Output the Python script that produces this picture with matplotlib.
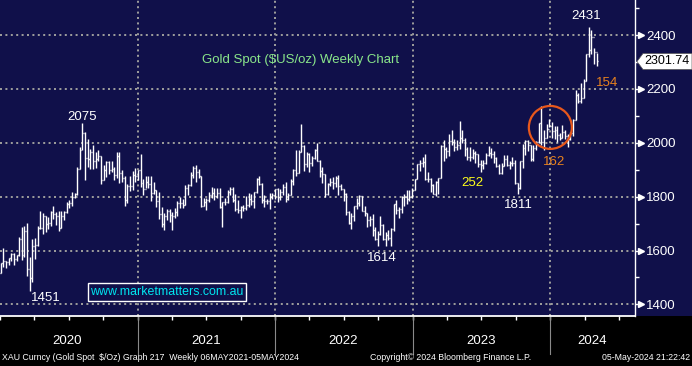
import matplotlib
matplotlib.use('Agg')
import matplotlib.pyplot as plt
import matplotlib.dates as mdates
import matplotlib.transforms as mtransforms
from matplotlib.patches import Rectangle, Polygon, Ellipse
from matplotlib.lines import Line2D
import numpy as np
import pandas as pd

# ---------------- data (weekly XAU spot) ----------------
first_week = "2020-01-03"
first_open = 1517

close_2020 = [1552,1562,1557,1571,1589, 1570,1584,1643,1585, 1674,1530,1498,1617,
              1620,1683,1683,1729, 1700,1702,1743,1735,1730, 1685,1730,1743,1771,
              1775,1799,1810,1902,1975, 2035,1944,1940,1964, 1934,1940,1950,1862,
              1900,1930,1899,1902,1879, 1951,1889,1871,1788, 1839,1839,1882,1877]
high_2020 = [1553,1611,1563,1574,1590, 1590,1585,1649,1689, 1692,1703,1576,1644,
             1645,1690,1748,1738, 1729,1723,1748,1765,1744, 1745,1745,1745,1779,
             1789,1818,1815,1909,1984, 2075,2039,2015,1977, 1993,1966,1973,1951,
             1917,1933,1933,1932,1910, 1965,1965,1898,1875, 1848,1875,1896,1906]
low_2020 = [1517,1540,1536,1546,1563, 1547,1562,1578,1564, 1576,1504,1451,1482,
            1567,1615,1680,1660, 1670,1681,1690,1718,1693, 1671,1685,1713,1741,
            1757,1764,1794,1807,1901, 1972,1863,1911,1903, 1902,1906,1932,1848,
            1862,1873,1884,1890,1860, 1871,1850,1855,1765, 1775,1820,1826,1856]

close_2021 = [1898,1850,1828,1855,1848, 1814,1824,1784,1734, 1700,1727,1745,1732,
              1729,1744,1777,1777,1769, 1831,1844,1881,1905, 1891,1877,1764,1781,
              1787,1808,1815,1802,1814, 1763,1780,1781,1817, 1828,1788,1754,1750,
              1761,1757,1768,1793,1783, 1818,1865,1846,1788, 1783,1783,1798,1808,1829]
high_2021 = [1900,1959,1864,1875,1875, 1875,1855,1823,1816, 1760,1740,1755,1755,
             1742,1758,1785,1797,1790, 1843,1846,1890,1912, 1916,1903,1878,1795,
             1795,1818,1834,1832,1832, 1832,1782,1795,1823, 1834,1834,1809,1788,
             1765,1770,1801,1814,1810, 1819,1868,1877,1849, 1808,1793,1815,1812,1830]
low_2021 = [1863,1835,1808,1833,1831, 1785,1809,1761,1717, 1687,1677,1714,1705,
            1678,1720,1730,1759,1757, 1769,1808,1839,1871, 1856,1869,1761,1767,
            1750,1782,1795,1789,1795, 1758,1687,1770,1775, 1805,1782,1745,1738,
            1721,1746,1750,1760,1770, 1758,1813,1845,1778, 1762,1771,1753,1790,1790]

close_2022 = [1797,1818,1835,1791, 1808,1859,1898,1889, 1966,1988,1921,1958,
              1925,1945,1975,1931,1897, 1883,1811,1846,1853, 1851,1871,1840,1827,
              1811,1742,1703,1727,1766, 1775,1802,1747,1738, 1712,1716,1675,1644,1660,
              1695,1644,1657,1645, 1681,1771,1751,1754, 1797,1797,1793,1798,1824]
high_2022 = [1831,1830,1848,1853, 1815,1865,1902,1974, 1974,2070,1990,1966,
             1961,1950,1978,1998,1936, 1910,1884,1849,1870, 1874,1877,1879,1847,
             1830,1814,1745,1739,1767, 1795,1808,1802,1765, 1740,1729,1735,1688,1672,
             1729,1700,1670,1675, 1682,1773,1786,1763, 1804,1810,1824,1823,1833]
low_2022 = [1782,1789,1805,1780, 1788,1807,1842,1878, 1889,1964,1895,1910,
            1890,1915,1940,1931,1872, 1850,1798,1807,1838, 1828,1836,1805,1823,
            1785,1732,1697,1681,1711, 1754,1764,1746,1727, 1688,1691,1654,1639,1615,
            1659,1640,1618,1638, 1616,1673,1737,1721, 1740,1765,1773,1784,1795]

close_2023 = [1865,1920,1926,1928, 1865,1865,1842,1811, 1856,1868,1989,1978,1969,
              2007,2004,1983,1990, 2017,2011,1978,1946, 1948,1961,1958,1921,1919,
              1925,1955,1962,1959, 1943,1914,1889,1915, 1940,1919,1924,1925,1849,
              1833,1932,1981,2006, 1993,1940,1981,2002, 2072,2004,2019,2053,2063]
high_2023 = [1865,1922,1937,1949, 1959,1890,1870,1848, 1858,1870,1990,2010,1986,
             2032,2048,2015,2010, 2079,2048,2019,1985, 1983,1976,1971,1960,1935,
             1935,1963,1987,1982, 1970,1948,1920,1924, 1953,1953,1932,1947,1935,
             1850,1933,1997,2010, 2010,1992,1993,2008, 2075,2135,2048,2071,2088]
low_2023 = [1826,1865,1896,1911, 1861,1853,1819,1809, 1804,1809,1868,1934,1945,
            1950,1992,1969,1974, 1977,2000,1952,1937, 1932,1939,1925,1910,1893,
            1902,1922,1950,1942, 1926,1910,1885,1885, 1913,1914,1901,1913,1846,
            1811,1830,1908,1953, 1970,1932,1931,1975, 2000,1993,1973,2016,2058]

close_2024 = [2045,2049,2029,2018, 2039,2024,2013,2035, 2083,2179,2155,2165,2230,
              2329,2344,2392,2338, 2302]
high_2024 = [2078,2062,2062,2037, 2065,2049,2032,2041, 2088,2195,2185,2222,2236,
             2330,2431,2418,2353, 2335]
low_2024 = [2017,2013,2002,2010, 2016,2015,1984,2012, 2024,2083,2146,2146,2165,
            2228,2319,2331,2292, 2285]

last_price = 2301.74
price_ticks = [1400, 1600, 1800, 2000, 2200, 2400]
price_minor = [1500, 1700, 1900, 2100, 2300, 2500]
years = ["2020", "2021", "2022", "2023", "2024"]
year_label_dates = ["2020-06-28", "2021-07-01", "2022-07-01", "2023-07-01", "2024-04-22"]
year_bounds = ["2021-01-01", "2022-01-01", "2023-01-01", "2024-01-01"]

# annotations: (text, date, price, colour)
notes = [("2075", "2020-08-07", 2096, "white"),
         ("1451", "2020-05-01", 1425, "white"),
         ("1614", "2022-10-10", 1574, "white"),
         ("252", "2023-06-08", 1852, "#ffff1a"),
         ("1811", "2023-10-08", 1770, "white"),
         ("162", "2024-01-11", 1930, "#e8821e"),
         ("154", "2024-05-30", 2222, "#e8821e"),
         ("2431", "2024-04-04", 2471, "white")]

close = close_2020 + close_2021 + close_2022 + close_2023 + close_2024
high = high_2020 + high_2021 + high_2022 + high_2023 + high_2024
low = low_2020 + low_2021 + low_2022 + low_2023 + low_2024
assert len(close) == len(high) == len(low)
opens = [first_open] + close[:-1]
dates = pd.date_range(first_week, periods=len(close), freq="W-FRI")
dn = mdates.date2num(dates.to_pydatetime())

# ---------------- styling ----------------
NAVY = "#10104a"
GRID = "#9a9a9a"
W, H = 692, 366
DPI = 100
FONT = ["Liberation Sans", "DejaVu Sans"]
plt.rcParams["font.family"] = FONT

fig = plt.figure(figsize=(W / DPI, H / DPI), dpi=DPI, facecolor=NAVY)
fig.add_artist(Rectangle((0, 0), 1, 50 / H, transform=fig.transFigure,
                         facecolor="black", edgecolor="none", zorder=-10))

ax = fig.add_axes([0, 50 / H, 635 / W, 316 / H])
ax.set_facecolor(NAVY)

x_left = mdates.date2num(pd.Timestamp("2020-01-01"))
x_right = x_left + 635 / 0.3767
ax.set_xlim(x_left, x_right)
ax.set_ylim(1357, 2530)

# grid
for p in price_ticks:
    ax.axhline(p, color=GRID, lw=1.44, ls=(0, (1, 1.7)), zorder=1)
for d in year_bounds:
    ax.axvline(mdates.date2num(pd.Timestamp(d)), color=GRID, lw=1.44, ls=(0, (1, 1.7)), zorder=1)

# OHLC bars
tick = 2.6
ax.vlines(dn, low, high, color="white", lw=1.0, zorder=3)
ax.hlines(opens, dn - tick, dn, color="white", lw=1.0, zorder=3)
ax.hlines(close, dn, dn + tick, color="white", lw=1.0, zorder=3)

# circle highlight
ax.add_patch(Ellipse((mdates.date2num(pd.Timestamp("2024-01-01")), 2057),
                     width=2 * 21.5 / 0.3767, height=2 * 21.5 / 0.2697,
                     fill=False, edgecolor="#e8581c", lw=1.6, zorder=4))

# spines
for s in ["top", "left"]:
    ax.spines[s].set_visible(False)
ax.spines["right"].set_color("white")
ax.spines["right"].set_linewidth(1.0)
ax.spines["bottom"].set_color("white")
ax.spines["bottom"].set_linewidth(1.3)

# y axis on right
ax.yaxis.tick_right()
ax.set_yticks(price_ticks)
ax.set_yticklabels([str(p) for p in price_ticks])
ax.set_yticks(price_minor, minor=True)
ax.tick_params(axis="y", which="major", colors="white", length=5, width=1, pad=3,
               labelsize=9.5, direction="out")
ax.tick_params(axis="y", which="minor", colors="white", length=3, width=1, direction="out")
tri = mtransforms.blended_transform_factory(ax.transAxes, ax.transData)
ax.plot([1 + 6 / 635] * len(price_ticks), price_ticks, ls="none", marker=">",
        ms=4, color="white", transform=tri, clip_on=False, zorder=5)

# x axis: quarter ticks, no labels
qt = pd.date_range("2020-01-01", "2024-08-01", freq="QS")
ax.set_xticks(mdates.date2num(qt.to_pydatetime()))
ax.tick_params(axis="x", which="major", colors="white", length=3, width=1,
               labelbottom=False, direction="out")

# year separators and labels in the bottom strip
bt = mtransforms.blended_transform_factory(ax.transData, fig.transFigure)
for d in year_bounds:
    xd = mdates.date2num(pd.Timestamp(d))
    fig.add_artist(Line2D([xd, xd], [1 - 317 / H, 1 - 354 / H], transform=bt,
                          color="#8a8a8a", lw=0.8))
for lab, d in zip(years, year_label_dates):
    fig.text(mdates.date2num(pd.Timestamp(d)), 1 - 341 / H, lab, transform=bt,
             color="white", fontsize=9.5, ha="center", va="center")

# annotations
for txt, d, p, col in notes:
    ax.text(mdates.date2num(pd.Timestamp(d)), p, txt, color=col, fontsize=9.5,
            ha="center", va="center", zorder=6)

def px(x, y):
    return x / W, 1 - y / H

fig.text(*px(301, 60), "Gold Spot ($US/oz) Weekly Chart", color="#8ae68a",
         fontsize=9.5, ha="center", va="center")

# website box
fig.add_artist(Rectangle(px(88, 301), 158 / W, 18 / H, transform=fig.transFigure,
                         facecolor=NAVY, edgecolor="white", lw=1.0, zorder=5))
fig.text(*px(167, 292), "www.marketmatters.com.au", color="#00e6f0",
         fontsize=8.9, ha="center", va="center", zorder=6)

# last price tag
fig.canvas.draw()
yd = ax.transData.transform((x_left, last_price))[1]
ytag = H - yd
poly = [(637, ytag), (643, ytag - 8), (692, ytag - 8), (692, ytag + 8), (643, ytag + 8)]
fig.add_artist(Polygon([px(a, b) for a, b in poly], closed=True, transform=fig.transFigure,
                       facecolor="white", edgecolor="#555555", lw=0.5, zorder=7))
fig.text(*px(667, ytag), f"{last_price:.2f}", color="black", fontsize=9.0,
         ha="center", va="center", zorder=8)

# footer
FOOT = ["Liberation Sans", "DejaVu Sans"]
fig.text(*px(2, 358), "XAU Curncy (Gold Spot  $/Oz) Graph 217  Weekly 06MAY2021-05MAY2024",
         color="white", fontsize=6.3, family=FOOT, ha="left", va="center")
fig.text(*px(370, 358), "Copyright\u00a9 2024 Bloomberg Finance L.P.",
         color="white", fontsize=6.3, family=FOOT, ha="left", va="center")
fig.text(*px(690, 358), "05-May-2024 21:22:42",
         color="white", fontsize=6.3, family=FOOT, ha="right", va="center")

fig.savefig("out.png", dpi=DPI, facecolor=fig.get_facecolor())
